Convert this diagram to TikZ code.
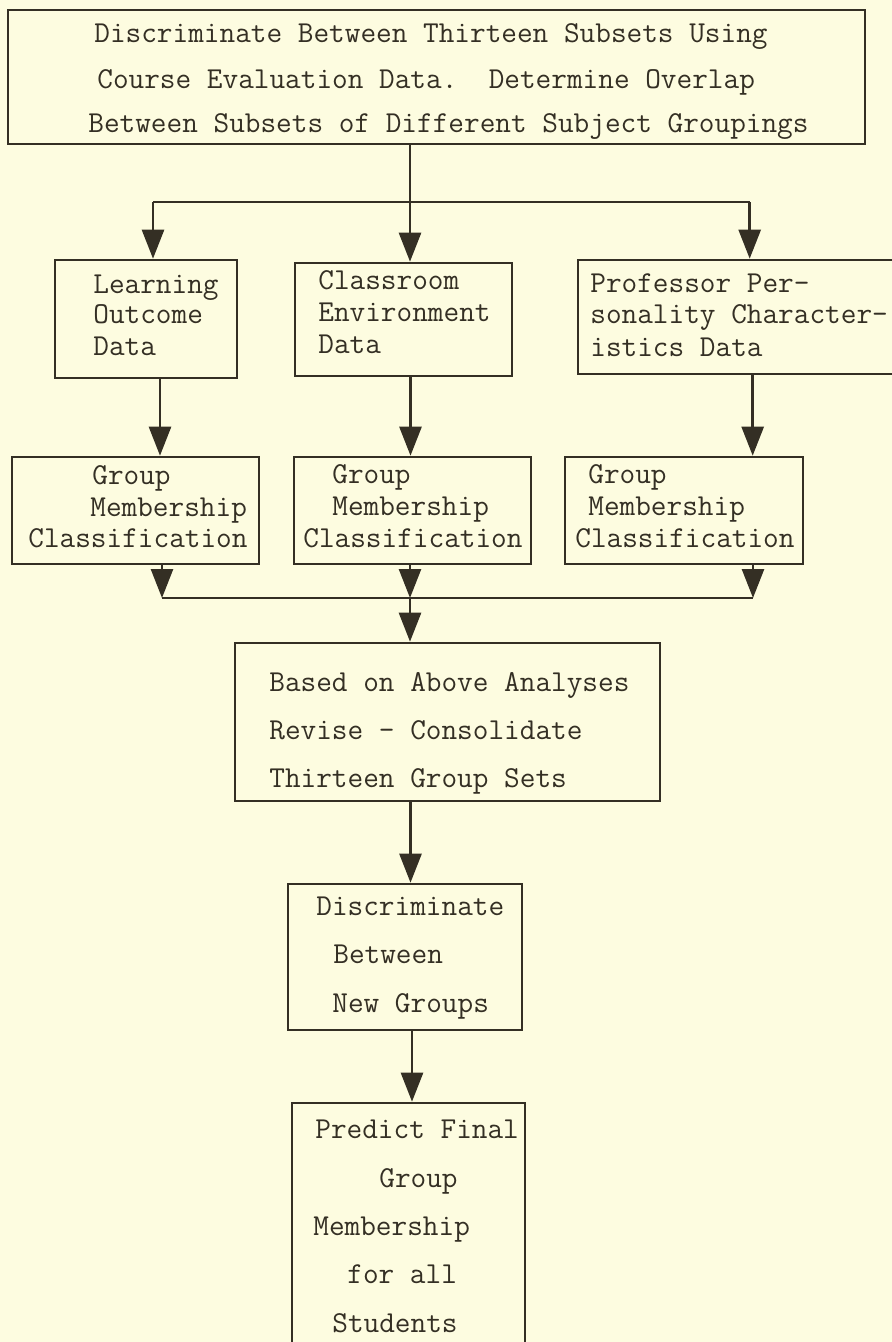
\documentclass[tikz,border=0pt]{standalone}
\usepackage{fontspec}
\usetikzlibrary{arrows.meta}

\definecolor{paper}{RGB}{253,252,224}
\definecolor{ink}{RGB}{52,47,36}

\tikzset{
	box/.style={shape=rectangle, draw=ink, line width=1.5pt, inner sep=0pt},
	txt/.style={anchor=base west, inner sep=0pt, text=ink, font=\fontsize{17.3}{20}\selectfont\ttfamily},
	wire/.style={draw=ink, line width=1.5pt},
	flow/.style={wire, -{Triangle[length=0.58cm, width=0.44cm]}}
}

\begin{document}
\begin{tikzpicture}
	\fill[paper] (0,0) rectangle (17.84,-26.84);
	\useasboundingbox (0,0) rectangle (17.84,-26.84);
	% Boxes:
	\node[box, minimum width=17.14cm, minimum height=2.68cm] (top) at (8.73,-1.54) {};
	\node[box, minimum width=3.64cm, minimum height=2.36cm] (learn) at (2.92,-6.38) {};
	\node[box, minimum width=4.34cm, minimum height=2.26cm] (room) at (8.07,-6.39) {};
	\node[box, minimum width=6.54cm, minimum height=2.28cm] (prof) at (14.83,-6.34) {};
	\node[box, minimum width=4.94cm, minimum height=2.14cm] (gm1) at (2.71,-10.21) {};
	\node[box, minimum width=4.74cm, minimum height=2.14cm] (gm2) at (8.25,-10.21) {};
	\node[box, minimum width=4.76cm, minimum height=2.14cm] (gm3) at (13.68,-10.21) {};
	\node[box, minimum width=8.50cm, minimum height=3.16cm] (cons) at (8.95,-14.44) {};
	\node[box, minimum width=4.68cm, minimum height=2.92cm] (disc) at (8.10,-19.14) {};
	\node[box, minimum width=4.66cm, minimum height=5.14cm] (pred) at (8.17,-24.63) {};
	% Texts, one node per typed line:
	\node[txt] (top-1) at (1.88,-0.84) {Discriminate Between Thirteen Subsets Using};
	\node[txt] (top-2) at (1.94,-1.76) {Course Evaluation Data.\ \ Determine Overlap};
	\node[txt] (top-3) at (1.76,-2.64) {Between Subsets of Different Subject Groupings};
	\node[txt] (learn-1) at (1.86,-5.86) {Learning};
	\node[txt] (learn-2) at (1.86,-6.46) {Outcome};
	\node[txt] (learn-3) at (1.86,-7.10) {Data};
	\node[txt] (room-1) at (6.36,-5.78) {Classroom};
	\node[txt] (room-2) at (6.36,-6.42) {Environment};
	\node[txt] (room-3) at (6.36,-7.06) {Data};
	\node[txt] (prof-1) at (11.80,-5.84) {Professor Per-};
	\node[txt] (prof-2) at (11.80,-6.46) {sonality Character-};
	\node[txt] (prof-3) at (11.80,-7.12) {istics Data};
	\node[txt] (gm1-1) at (1.84,-9.68) {Group};
	\node[txt] (gm1-2) at (1.80,-10.32) {Membership};
	\node[txt] (gm1-3) at (0.56,-10.94) {Classification};
	\node[txt] (gm2-1) at (6.64,-9.66) {Group};
	\node[txt] (gm2-2) at (6.64,-10.30) {Membership};
	\node[txt] (gm2-3) at (6.06,-10.94) {Classification};
	\node[txt] (gm3-1) at (11.76,-9.66) {Group};
	\node[txt] (gm3-2) at (11.76,-10.30) {Membership};
	\node[txt] (gm3-3) at (11.50,-10.94) {Classification};
	\node[txt] (cons-1) at (5.38,-13.82) {Based on Above Analyses};
	\node[txt] (cons-2) at (5.38,-14.78) {Revise - Consolidate};
	\node[txt] (cons-3) at (5.38,-15.74) {Thirteen Group Sets};
	\node[txt] (disc-1) at (6.32,-18.30) {Discriminate};
	\node[txt] (disc-2) at (6.66,-19.26) {Between};
	\node[txt] (disc-3) at (6.64,-20.24) {New Groups};
	\node[txt] (pred-1) at (6.30,-22.76) {Predict Final};
	\node[txt] (pred-2) at (7.58,-23.74) {Group};
	\node[txt] (pred-3) at (6.26,-24.70) {Membership};
	\node[txt] (pred-4) at (6.94,-25.66) {for all};
	\node[txt] (pred-5) at (6.64,-26.64) {Students};
	% Wires:
	\coordinate (split) at (8.20,-4.04);
	\coordinate (merge) at (8.20,-11.96);
	\draw[wire] ([xshift=-0.53cm]top.south) -- ([xshift=-0.53cm]top.south |- split);
	\draw[wire] ([xshift=0.14cm]learn.north |- split) -- ([xshift=3.46cm]prof.north west |- split);
	\draw[flow] ([xshift=0.14cm]learn.north |- split) -- ([xshift=0.14cm]learn.north);
	\draw[flow] (split) -- (split |- room.north);
	\draw[flow] ([xshift=3.46cm]prof.north west |- split) -- ([xshift=3.46cm]prof.north west);
	\draw[flow] ([xshift=0.28cm]learn.south) -- ([xshift=0.28cm]learn.south |- gm1.north);
	\draw[flow] ([xshift=0.14cm]room.south) -- ([xshift=0.14cm]room.south |- gm2.north);
	\draw[flow] ([xshift=3.52cm]prof.south west) -- ([xshift=3.52cm]prof.south west |- gm3.north);
	\draw[flow] ([xshift=0.53cm]gm1.south) -- ([xshift=0.53cm]gm1.south |- merge);
	\draw[flow] ([xshift=-0.05cm]gm2.south) -- ([xshift=-0.05cm]gm2.south |- merge);
	\draw[flow] ([xshift=1.38cm]gm3.south) -- ([xshift=1.38cm]gm3.south |- merge);
	\draw[wire] ([xshift=0.53cm]gm1.south |- merge) -- ([xshift=1.38cm]gm3.south |- merge);
	\draw[flow] (merge) -- (merge |- cons.north);
	\draw[flow] ([xshift=-0.74cm]cons.south) -- ([xshift=-0.74cm]cons.south |- disc.north);
	\draw[flow] ([xshift=0.14cm]disc.south) -- ([xshift=0.14cm]disc.south |- pred.north);
\end{tikzpicture}
\end{document}
